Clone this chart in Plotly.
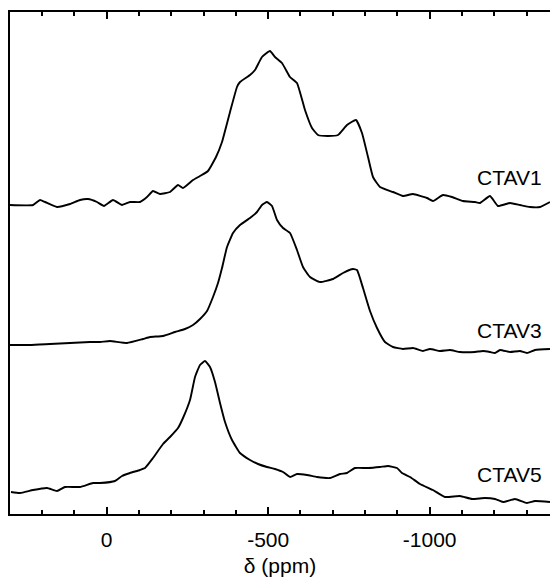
import plotly.graph_objects as go

# Chemical shift (ppm) and intensity (arbitrary units) for each sample
ctav1_ppm = [299.4, 228, 206.5, 191, 154, 113.6, 82.7, 57.9, 30, 8.4, -19.5, -47.4, -72.1, -103,
             -124.8, -143.3, -165, -196, -220.8, -236.2, -267.2, -288.9, -313.6, -338.4, -357,
             -381.8, -403.4, -412.7, -443.7, -459.1, -480.8, -505.5, -521, -542.7, -567.4, -589.1,
             -613.9, -635.6, -654.2, -685.1, -716.1, -744, -771.8, -790.4, -809, -824.5, -846.1,
             -886.4, -917.3, -948.3, -991.6, -1010.2, -1041.2, -1069, -1103.1, -1140.2, -1155.7,
             -1186.7, -1211.4, -1248.6, -1279.5, -1310.5, -1341.5, -1372.5]
ctav1_int = [0, 0, 5, 3, -2, 1, 5, 6, 3, -1, 5, 0, 3, 3,
             8, 14, 11, 13, 20, 17, 25, 29, 34, 48, 63,
             93, 118, 123, 130, 135, 148, 154, 148, 142, 128, 122,
             95, 77, 70, 69, 70, 80, 85, 72, 48, 28, 18,
             13, 9, 11, 7, 4, 10, 8, 4, 3, 2,
             9, -1, 2, 0, -2, -2, 3]

ctav3_ppm = [299.4, 237.5, 175.6, 113.6, 51.7, 20.7, -10.2, -62.8, -112.4, -134.1, -174.3, -211.5,
             -242.4, -267.2, -288.9, -310.6, -329.1, -344.6, -357, -372.5, -391.1, -412.7, -443.7,
             -465.3, -480.8, -496.3, -511.8, -527.3, -545.9, -567.6, -589.1, -607.7, -629.4, -660.4,
             -700.6, -731.6, -762.6, -775, -793.5, -815.2, -836.9, -861.6, -886.4, -917.3, -948.3,
             -979.2, -1000.9, -1031.8, -1062.8, -1093.7, -1140.2, -1165, -1186.7, -1202.2, -1217.7,
             -1248.6, -1279.5, -1301.2, -1326, -1372.5]
ctav3_int = [7, 7, 8, 9, 10, 10, 11, 9, 13, 15, 16, 20,
             23, 27, 33, 41, 55, 69, 84, 105, 119, 127, 134,
             140, 147, 150, 146, 132, 124, 119, 102, 85, 75, 70,
             73, 79, 83, 82, 64, 41, 24, 10, 5, 3, 4,
             1, 3, 1, 2, 0, 0, 1, 0, -1, 2,
             0, 1, -1, 2, 3]

ctav5_ppm = [296.3, 268.4, 228.2, 184.8, 153.9, 129.1, 82.7, 42.4, 20.7, -25.7, -47.4, -72.1, -103,
             -118.6, -143.3, -174.3, -196, -220.8, -236.2, -257.9, -273.4, -288.9, -304.3, -319.8,
             -335.3, -350.8, -366.3, -387.9, -412.7, -443.7, -468.4, -496.3, -521, -545.9, -567.6,
             -589.1, -620.1, -651.1, -691.4, -722.3, -744, -768.8, -809, -846.1, -870.9, -898.8,
             -914.3, -939.1, -970, -1010.2, -1047.4, -1093.7, -1130.9, -1171.2, -1202.2, -1227,
             -1264.1, -1301.2, -1326, -1372.5]
ctav5_int = [10, 9, 12, 14, 11, 15, 15, 19, 19, 21, 26, 29, 32,
             34, 44, 58, 65, 74, 84, 102, 125, 137, 141, 135,
             120, 99, 80, 62, 49, 42, 38, 35, 33, 30, 25,
             28, 27, 25, 24, 28, 29, 34, 34, 35, 36, 34,
             29, 25, 18, 12, 5, 6, 3, 4, 3, 0,
             3, -1, 1, 0]

sample_names = ["CTAV1", "CTAV3", "CTAV5"]
tick_values = [0, -500, -1000]
tick_labels = ["0", "-500", "-1000"]

# vertical stacking of the spectra
offsets = {"CTAV1": 309, "CTAV3": 162, "CTAV5": 12}
series = {
    "CTAV1": (ctav1_ppm, ctav1_int),
    "CTAV3": (ctav3_ppm, ctav3_int),
    "CTAV5": (ctav5_ppm, ctav5_int),
}

FONT = "Liberation Sans, Arial, sans-serif"
X_RANGE = [299.4, -1372.5]

fig = go.Figure()
for name in sample_names:
    ppm, inten = series[name]
    fig.add_trace(go.Scatter(
        x=ppm,
        y=[v + offsets[name] for v in inten],
        mode="lines",
        line=dict(color="black", width=1.9, shape="spline", smoothing=0.4),
        name=name,
        showlegend=False,
        hoverinfo="skip",
    ))

# invisible trace so the top frame axis is drawn
fig.add_trace(go.Scatter(x=[X_RANGE[0]], y=[0], xaxis="x2", mode="markers",
                         marker=dict(opacity=0), showlegend=False, hoverinfo="skip"))

label_y = {"CTAV1": 337, "CTAV3": 184, "CTAV5": 40}
for name in sample_names:
    fig.add_annotation(
        x=-1354, y=label_y[name], xref="x", yref="y",
        text=name, showarrow=False, xanchor="right", yanchor="middle",
        font=dict(family=FONT, size=21, color="black"),
    )

tick_style = dict(
    ticks="inside", ticklen=7, tickwidth=1.5, tickcolor="black",
    minor=dict(dtick=100, tick0=0, ticks="inside", ticklen=4, tickwidth=1.5, tickcolor="black"),
    showline=True, linecolor="black", linewidth=1.5,
    showgrid=False, zeroline=False,
)

fig.update_layout(
    width=550, height=577,
    margin=dict(l=10, r=0, t=12, b=63),
    paper_bgcolor="white", plot_bgcolor="white",
    font=dict(family=FONT, size=21, color="black"),
    xaxis=dict(
        range=X_RANGE,
        tickvals=tick_values, ticktext=tick_labels,
        tickfont=dict(family=FONT, size=21),
        ticklabelstandoff=6,
        title=dict(text="δ (ppm)", font=dict(family=FONT, size=21), standoff=12),
        **tick_style,
    ),
    xaxis2=dict(
        range=X_RANGE, overlaying="x", side="top", anchor="y",
        tickvals=tick_values, showticklabels=False,
        **tick_style,
    ),
    yaxis=dict(
        range=[0, 502],
        showticklabels=False, ticks="",
        showline=True, linecolor="black", linewidth=1.5, mirror=False,
        showgrid=False, zeroline=False,
    ),
)

fig.write_html("out.html")
